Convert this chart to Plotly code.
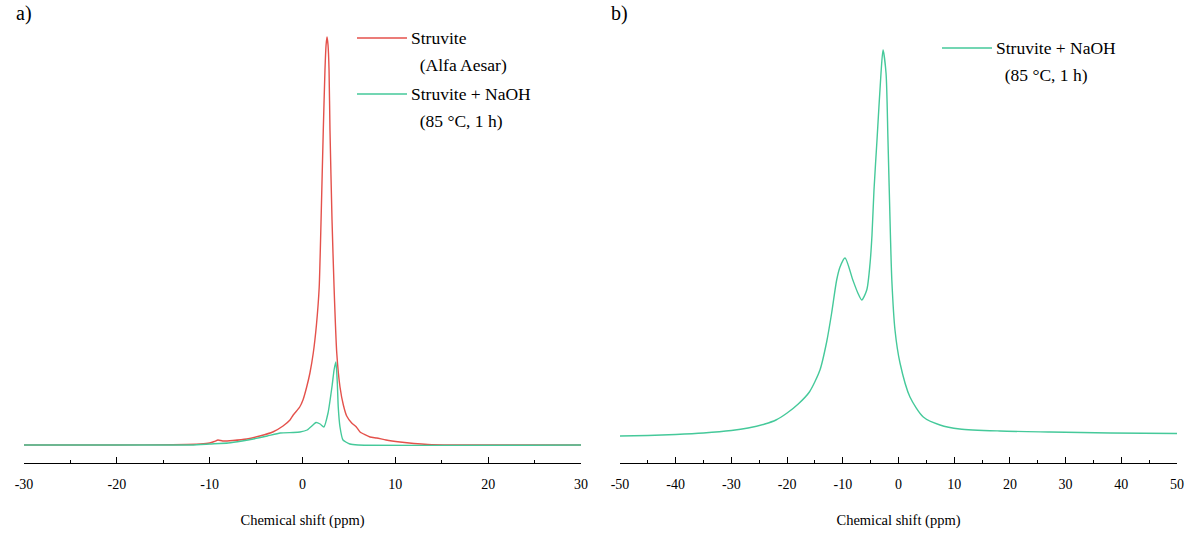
import plotly.graph_objects as go

# --- 31P NMR spectra, panel a: reference struvite vs. NaOH-treated struvite ---
shift_a_red = [-30, -20, -14, -11, -10, -9.5, -9.1, -8.6, -7.5, -6.0, -4.6, -3.2, -2.1,
               -1.35, -1.0, -0.3, 0.05, 0.45, 0.8, 1.16, 1.5, 1.8, 2.0, 2.24, 2.42, 2.54,
               2.64, 2.75, 2.86, 2.96, 3.18, 3.4, 3.69, 4.04, 4.4, 4.76, 5.3, 5.8, 6.2,
               7.27, 8.0, 9.0, 10.5, 12, 13.5, 16, 30]
inten_a_red = [0, 0, 0.3, 1, 2, 3.5, 5, 4, 4.5, 6, 9, 13, 19,
               25, 30, 38, 45, 58, 72, 92, 120, 158, 225, 315, 375, 400,
               408, 400, 375, 315, 225, 158, 92, 58, 40, 29, 22, 18, 13,
               8, 7, 5, 3, 1.5, 0.5, 0, 0]

shift_a_green = [-30, -12, -10, -8, -6.5, -5.3, -3.8, -2.4, -1.0, -0.27, 0.5, 1.13, 1.45,
                 1.9, 2.3, 2.75, 3.2, 3.4, 3.6, 3.75, 3.85, 4.04, 4.36, 5.1, 6, 30]
inten_a_green = [0, 0, 1, 2, 4, 6, 9, 12, 12.5, 13, 15, 20, 22.5,
                 21, 18, 32, 60, 75, 83, 62, 38, 18, 5, 1, 0, 0]

# --- panel b: NaOH-treated struvite, wide window ---
shift_b = [-50, -45, -40, -35, -30, -27, -24, -22, -20, -18, -16, -14.1, -12.9, -12.0,
           -11.1, -10.5, -9.6, -8.2, -7.3, -6.6, -5.7, -5.1, -4.76, -4.4, -3.86, -3.14,
           -2.78, -2.24, -1.89, -1.45, -1.2, -0.63, 0.27, 2.06, 4.45, 7.45, 11, 18.2,
           27.2, 38, 50]
inten_b = [4, 4.5, 5.5, 7, 9.5, 12, 16, 20, 27, 36, 48, 70, 98, 127,
           160, 173, 182, 160, 147, 140, 150, 177, 205, 250, 300, 367,
           390, 367, 300, 205, 160, 110, 77, 43, 23, 15, 11, 9,
           8, 7, 6.5]

ticks_a = [-30, -20, -10, 0, 10, 20, 30]
ticks_b = [-50, -40, -30, -20, -10, 0, 10, 20, 30, 40, 50]

RED = "#e4514b"
GREEN = "#45c99a"
FONT = "Liberation Serif, Times New Roman, serif"
W, H, PLOT_H = 1188, 535, 463

fig = go.Figure()
fig.add_trace(go.Scatter(x=shift_a_red, y=inten_a_red, mode="lines",
                         line=dict(color=RED, width=1.4, shape="spline", smoothing=0.5),
                         xaxis="x", yaxis="y", showlegend=False))
fig.add_trace(go.Scatter(x=shift_a_green, y=inten_a_green, mode="lines",
                         line=dict(color=GREEN, width=1.4, shape="spline", smoothing=0.5),
                         xaxis="x", yaxis="y", showlegend=False))
fig.add_trace(go.Scatter(x=shift_b, y=inten_b, mode="lines",
                         line=dict(color=GREEN, width=1.4, shape="spline", smoothing=0.7),
                         xaxis="x2", yaxis="y2", showlegend=False))


def xaxis_style(rng, ticks, domain, anchor):
    return dict(
        domain=domain, range=rng, anchor=anchor,
        showline=True, linecolor="black", linewidth=1,
        showgrid=False, zeroline=False,
        tickvals=ticks, ticktext=[str(t) for t in ticks],
        ticks="inside", ticklen=6, tickwidth=1, tickcolor="black",
        minor=dict(dtick=5, tick0=0, ticks="inside", ticklen=3, tickwidth=1, tickcolor="black"),
        ticklabelstandoff=8,
        tickfont=dict(family=FONT, size=14, color="black"),
        title=dict(text="Chemical shift (ppm)", standoff=24,
                   font=dict(family=FONT, size=14.5, color="black")),
    )


fig.update_layout(
    width=W, height=H,
    margin=dict(l=0, r=0, t=0, b=H - PLOT_H, autoexpand=False),
    paper_bgcolor="white", plot_bgcolor="white",
    xaxis=xaxis_style([-30, 30], ticks_a, [24 / W, 581 / W], "y"),
    yaxis=dict(domain=[0, 1], range=[-18, 445], visible=False),
    xaxis2=xaxis_style([-50, 50], ticks_b, [620 / W, 1177 / W], "y2"),
    yaxis2=dict(domain=[0, 1], range=[-23, 440], visible=False, anchor="x2"),
)


def px(x):
    return x / W


def py(y):
    return 1 - y / PLOT_H


# panel letters
for label, x in [("a)", 14), ("b)", 609)]:
    fig.add_annotation(x=px(x), y=py(13), xref="paper", yref="paper", text=label,
                       showarrow=False, xanchor="left", yanchor="middle",
                       font=dict(family=FONT, size=20, color="black"))

# legend keys: sample line + label lines
legend_items = [
    (357, 38, RED, ["Struvite", "\u00a0\u00a0(Alfa Aesar)"]),
    (357, 94, GREEN, ["Struvite + NaOH", "\u00a0\u00a0(85 °C, 1 h)"]),
    (942, 48, GREEN, ["Struvite + NaOH", "\u00a0\u00a0(85 °C, 1 h)"]),
]
for x0, y0, color, lines in legend_items:
    fig.add_shape(type="line", xref="paper", yref="paper",
                  x0=px(x0), x1=px(x0 + 50), y0=py(y0), y1=py(y0),
                  line=dict(color=color, width=1.4))
    for i, txt in enumerate(lines):
        fig.add_annotation(x=px(x0 + 52), y=py(y0 + 27 * i), xref="paper", yref="paper",
                           text=txt, showarrow=False, xanchor="left", yanchor="middle",
                           font=dict(family=FONT, size=17.5, color="black"))

fig.write_html("out.html")
